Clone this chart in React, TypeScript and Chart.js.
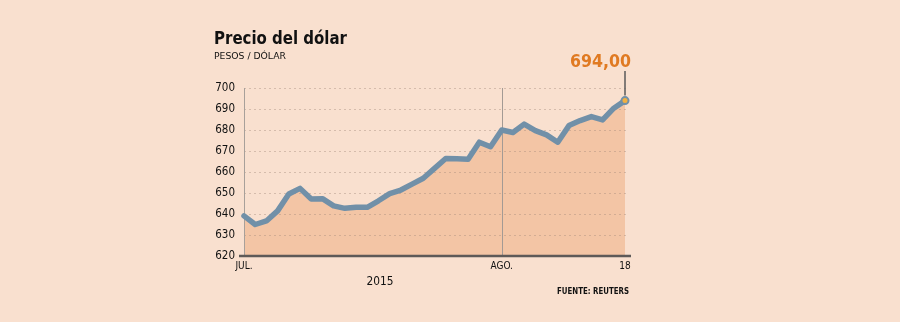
import React, { useEffect, useRef } from "react";
import { Chart, registerables } from "chart.js";

Chart.register(...registerables);

// Trading days, 1 Jul 2015 – 18 Aug 2015
const categories: string[] = [
  "1 jul", "2 jul", "3 jul", "6 jul", "7 jul", "8 jul", "9 jul", "10 jul",
  "13 jul", "14 jul", "15 jul", "16 jul", "17 jul", "20 jul", "21 jul", "22 jul",
  "23 jul", "24 jul", "27 jul", "28 jul", "29 jul", "30 jul", "31 jul",
  "3 ago", "4 ago", "5 ago", "6 ago", "7 ago", "10 ago", "11 ago", "12 ago",
  "13 ago", "14 ago", "17 ago", "18 ago",
];

const dollarValues: number[] = [
  639.1, 635.0, 636.7, 641.5, 649.5, 652.2, 647.1, 647.3,
  643.9, 642.7, 643.2, 643.2, 646.3, 649.7, 651.4, 654.2,
  657.0, 661.7, 666.4, 666.3, 666.1, 674.2, 672.0,
  680.0, 678.8, 682.8, 679.7, 677.7, 674.2, 682.1, 684.5,
  686.4, 684.8, 690.4, 694.0,
];

const xTickLabels: string[] = categories.map((c, i) =>
  i === 0 ? "JUL." : i === 23 ? "AGO." : i === categories.length - 1 ? "18" : ""
);
const monthDividerIndex = 23;
const yTicks: number[] = [620, 630, 640, 650, 660, 670, 680, 690, 700];

const title = "Precio del dólar";
const subtitle = "PESOS / DÓLAR";
const yearLabel = "2015";
const sourceLabel = "FUENTE: REUTERS";
const lastValueLabel = "694,00";

const FONT = "'DejaVu Sans Condensed', 'DejaVu Sans', sans-serif";
const BG = "#f9e0cf";
const FILL = "#f3c5a5";
const LINE = "#7190a8";

function fitText(ctx: CanvasRenderingContext2D, text: string, x: number, y: number, width: number, align: "left" | "right" | "center") {
  const w = ctx.measureText(text).width;
  const sx = width / w;
  ctx.save();
  let left = x;
  if (align === "right") left = x - width;
  if (align === "center") left = x - width / 2;
  ctx.translate(left, y);
  ctx.scale(sx, 1);
  ctx.textAlign = "left";
  ctx.fillText(text, 0, 0);
  ctx.restore();
}

export default function App() {
  const ref = useRef<HTMLCanvasElement | null>(null);

  useEffect(() => {
    if (!ref.current) return;
    const decorations = {
      id: "decorations",
      beforeDraw(chart: any) {
        const ctx = chart.ctx;
        ctx.save();
        ctx.fillStyle = BG;
        ctx.fillRect(0, 0, chart.width, chart.height);
        ctx.restore();
      },
      afterDatasetDraw(chart: any, args: any) {
        if (args.index !== 0) return;
        const ctx = chart.ctx;
        const { left, right, top, bottom } = chart.chartArea;
        const y = chart.scales.y;
        const x = chart.scales.x;
        ctx.save();
        // dotted grid
        ctx.strokeStyle = "rgba(160,135,120,0.4)";
        ctx.lineWidth = 1;
        ctx.setLineDash([2, 3]);
        yTicks.slice(1).forEach((v) => {
          const py = Math.round(y.getPixelForValue(v)) + 0.5;
          ctx.beginPath();
          ctx.moveTo(left, py);
          ctx.lineTo(right + 4, py);
          ctx.stroke();
        });
        ctx.setLineDash([]);
        // y axis line
        ctx.strokeStyle = "#a8a09a";
        ctx.beginPath();
        ctx.moveTo(Math.round(left) + 0.5, top);
        ctx.lineTo(Math.round(left) + 0.5, bottom);
        ctx.stroke();
        // month divider
        const mx = Math.round(x.getPixelForValue(monthDividerIndex)) + 0.5;
        ctx.strokeStyle = "#a39a94";
        ctx.beginPath();
        ctx.moveTo(mx, top);
        ctx.lineTo(mx, bottom);
        ctx.stroke();
        ctx.restore();
      },
      afterDraw(chart: any) {
        const ctx = chart.ctx;
        const { left, right, bottom } = chart.chartArea;
        const x = chart.scales.x;
        const y = chart.scales.y;
        ctx.save();
        // baseline
        ctx.strokeStyle = "#5e5a58";
        ctx.lineWidth = 2.5;
        ctx.beginPath();
        ctx.moveTo(left - 5, bottom);
        ctx.lineTo(right + 6, bottom);
        ctx.stroke();
        // leader line
        const last = dollarValues.length - 1;
        const px = x.getPixelForValue(last);
        const py = y.getPixelForValue(dollarValues[last]);
        ctx.strokeStyle = "#5a5a5a";
        ctx.lineWidth = 1.5;
        ctx.beginPath();
        ctx.moveTo(px, 71);
        ctx.lineTo(px, py - 5);
        ctx.stroke();
        // texts
        ctx.fillStyle = "#111";
        ctx.textBaseline = "alphabetic";
        ctx.font = `bold 18px ${FONT}`;
        fitText(ctx, title, 214, 44, 133, "left");
        ctx.font = `9.5px ${FONT}`;
        fitText(ctx, subtitle, 214, 59, 72, "left");
        ctx.font = `12.5px ${FONT}`;
        fitText(ctx, yearLabel, 380, 285, 27, "center");
        ctx.font = `bold 9px ${FONT}`;
        fitText(ctx, sourceLabel, 629, 293.5, 72, "right");
        ctx.fillStyle = "#e07a22";
        ctx.font = `bold 18.5px ${FONT}`;
        fitText(ctx, lastValueLabel, 631, 66.5, 61, "right");
        ctx.restore();
      },
    };

    const chart = new Chart(ref.current, {
      type: "line",
      data: {
        labels: categories,
        datasets: [
          {
            label: "fill",
            data: dollarValues,
            fill: "origin",
            backgroundColor: FILL,
            borderWidth: 0,
            pointRadius: 0,
            tension: 0,
            order: 2,
          },
          {
            label: "Precio del dólar",
            data: dollarValues,
            fill: false,
            borderColor: LINE,
            borderWidth: 5.5,
            borderJoinStyle: "round",
            borderCapStyle: "round",
            tension: 0,
            order: 1,
            pointRadius: dollarValues.map((_, i) => (i === dollarValues.length - 1 ? 3.5 : 0)),
            pointBackgroundColor: "#f2b040",
            pointBorderColor: LINE,
            pointBorderWidth: 2,
          },
        ],
      },
      options: {
        responsive: false,
        animation: false,
        events: [],
        layout: { padding: { left: 200, right: 275, top: 88, bottom: 50 } },
        plugins: {
          legend: { display: false },
          title: { display: false },
          tooltip: { enabled: false },
        },
        scales: {
          x: {
            type: "category",
            offset: false,
            grid: { display: false, drawTicks: false },
            border: { display: false },
            afterFit: (s: any) => { s.height = 16; },
            ticks: {
              autoSkip: false,
              maxRotation: 0,
              minRotation: 0,
              padding: 4,
              color: "#111",
              font: { family: FONT, size: 10 },
              callback: (_v: any, i: number) => xTickLabels[i],
            },
          },
          y: {
            min: 620,
            max: 700,
            grid: { display: false, drawTicks: false },
            border: { display: false },
            afterFit: (s: any) => { s.width = 44; },
            afterBuildTicks: (s: any) => { s.ticks = yTicks.map((v) => ({ value: v })); },
            ticks: {
              padding: 9,
              color: "#111",
              font: { family: FONT, size: 11.5 },
            },
          },
        },
      },
      plugins: [decorations],
    });
    return () => chart.destroy();
  }, []);

  return (
    <div style={{ position: "absolute", left: 0, top: 0, width: 900, height: 322 }}>
      <canvas ref={ref} width={900} height={322} />
    </div>
  );
}
